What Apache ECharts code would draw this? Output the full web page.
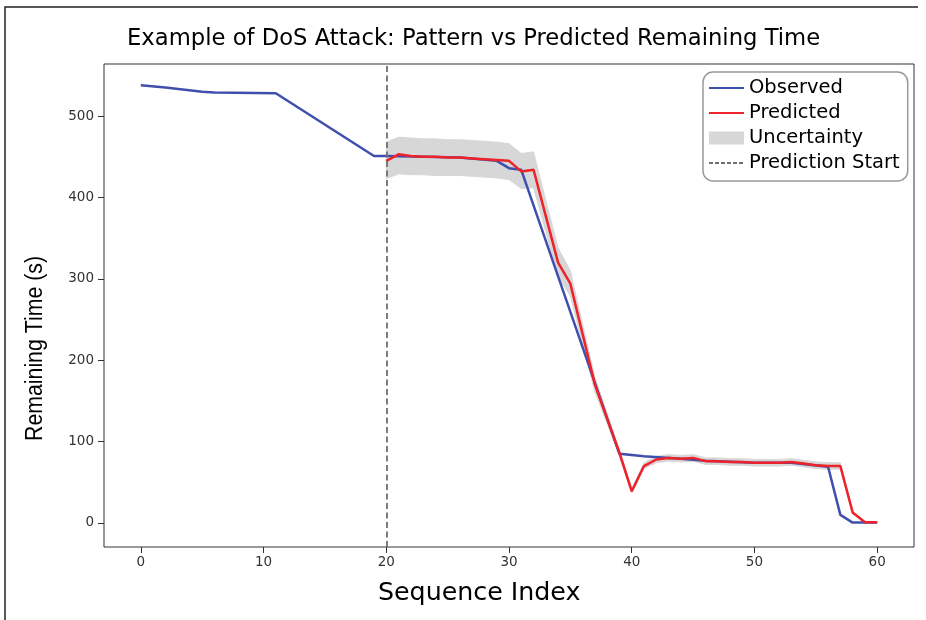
<!DOCTYPE html>
<html><head><meta charset="utf-8">
<script src="https://cdn.jsdelivr.net/npm/echarts@6/dist/echarts.min.js"></script>
<style>html,body{margin:0;padding:0;background:#fff}#c{width:926px;height:620px}</style>
</head><body><div id="c"></div>
<script>
// ---- data ----
const observedIndex = [0, 2, 5, 6, 11, 19, 20, 23, 26, 29, 30, 31, 39, 41, 44, 46, 50, 53, 56, 57, 58, 60];
const observedValue = [538, 535, 530, 529, 528, 451, 451, 450, 449, 445, 436, 434, 85, 82, 79, 76.5, 74, 74, 69, 10, 0.5, 0.5];

const predictedIndex = [20,21,22,23,24,25,26,27,28,29,30,31,32,33,34,35,36,37,38,39,40,41,42,43,44,45,46,47,48,49,50,51,52,53,54,55,56,57,58,59,60];
const predictedValue = [445,453,451,450,450,449,449,448,447,446,445,432,434,377,320,294,232,170,128,86,39,70,78,80,79,80,76,76,75,75,74,74,74,75,73,71,70,70,13,1,1];
const upperBound     = [468,474,473,472,472,471,471,470,469,468,466,454,456,396,338,310,244,179,135,90,42,74,82,84,83,84,80,80,79,79,78,78,78,79,77,75,74,74,14,1.5,1.5];
const lowerBound     = [423,429,428,428,427,427,427,426,425,424,422,411,412,358,303,279,220,161,122,82,37,67,74,76,75,76,72,72,71,71,70,70,70,71,69,67,66,66,12,0.5,0.5];

const predictionStart = 20;
const xTicks = [0, 10, 20, 30, 40, 50, 60];
const yTicks = [0, 100, 200, 300, 400, 500];

const titleText = 'Example of DoS Attack: Pattern vs Predicted Remaining Time';
const xName = 'Sequence Index';
const yName = 'Remaining Time (s)';

// ---- build ----
const zip = (a, b) => a.map((v, i) => [v, b[i]]);
const bandData = predictedIndex.map((x, i) => [x, upperBound[i], lowerBound[i]]);

const chart = echarts.init(document.getElementById('c'), null, {renderer: 'canvas'});
const axisColor = '#333';
const font = 'DejaVu Sans';
const bandColor = '#d7d7d7';

chart.setOption({
  animation: false,
  backgroundColor: '#fff',
  grid: {left: 104, right: 12, top: 64, bottom: 73, show: true, borderColor: axisColor, borderWidth: 1, backgroundColor: 'transparent'},
  xAxis: {
    type: 'value', min: -3, max: 63,
    axisLine: {show: false, onZero: false},
    axisTick: {show: true, length: 6, customValues: xTicks, lineStyle: {color: axisColor}},
    axisLabel: {customValues: xTicks, color: '#333', fontFamily: font, fontSize: 13.5, margin: 8},
    splitLine: {show: false}
  },
  yAxis: {
    type: 'value', min: -29.5, max: 564,
    axisLine: {show: false, onZero: false},
    axisTick: {show: true, length: 6, customValues: yTicks, lineStyle: {color: axisColor}},
    axisLabel: {customValues: yTicks, color: '#333', fontFamily: font, fontSize: 13.5, margin: 10},
    splitLine: {show: false}
  },
  legend: {
    orient: 'vertical', left: 703, top: 72,
    padding: [6, 8, 8, 5], itemGap: 5, itemWidth: 35, itemHeight: 13,
    backgroundColor: '#fff', borderColor: '#999', borderWidth: 1.5, borderRadius: 10,
    textStyle: {fontFamily: font, fontSize: 19.5, color: '#000', padding: [0, 0, 0, 0]},
    data: [
      {name: 'Observed', itemStyle: {opacity: 0}},
      {name: 'Predicted', itemStyle: {opacity: 0}},
      {name: 'Uncertainty', icon: 'rect', itemStyle: {color: bandColor}},
      {name: 'Prediction Start', itemStyle: {opacity: 0}}
    ]
  },
  graphic: [
    {type: 'text', left: 127, top: 28, style: {text: titleText, font: '22.7px "DejaVu Sans"', fill: '#000'}},
    {type: 'text', left: 378, top: 581, style: {text: xName, font: '25.3px "DejaVu Sans"', fill: '#000'}},
    {type: 'text', x: 24, y: 441, rotation: Math.PI / 2, scaleY: 1.12,
     style: {text: yName, font: '21.3px "Liberation Sans"', fill: '#000', textVerticalAlign: 'top'}},
    {type: 'polyline', silent: true, shape: {points: [[5, 640], [5, 7], [918, 7]]}, style: {fill: 'none', stroke: '#222', lineWidth: 1.5}}
  ],
  series: [
    {name: 'Uncertainty', type: 'custom', data: bandData, encode: {x: 0, y: [1, 2]}, silent: true, clip: true, z: 1,
     itemStyle: {color: bandColor},
     renderItem: function (params, api) {
       if (params.dataIndex !== 0) return null;
       const pts = [];
       for (let i = 0; i < predictedIndex.length; i++) pts.push(api.coord([predictedIndex[i], upperBound[i]]));
       for (let i = predictedIndex.length - 1; i >= 0; i--) pts.push(api.coord([predictedIndex[i], lowerBound[i]]));
       return {type: 'polygon', shape: {points: pts}, style: {fill: bandColor, stroke: bandColor, lineWidth: 1}};
     }},
    {name: 'Observed', type: 'line', data: zip(observedIndex, observedValue), symbol: 'none',
     itemStyle: {color: '#3f4fae'}, lineStyle: {color: '#3f4fae', width: 2.5}, z: 3},
    {name: 'Predicted', type: 'line', data: zip(predictedIndex, predictedValue), symbol: 'none',
     itemStyle: {color: '#ee2229'}, lineStyle: {color: '#ee2229', width: 2.5}, z: 4},
    {name: 'Prediction Start', type: 'line', data: [], symbol: 'none',
     itemStyle: {color: '#707070'}, lineStyle: {color: '#707070', width: 1.5, type: [4, 2]}, z: 5,
     markLine: {symbol: 'none', silent: true, label: {show: false},
       lineStyle: {color: '#707070', width: 1.8, type: [6, 3.5]},
       data: [{xAxis: predictionStart}]}}
  ]
});
</script>
</body></html>
